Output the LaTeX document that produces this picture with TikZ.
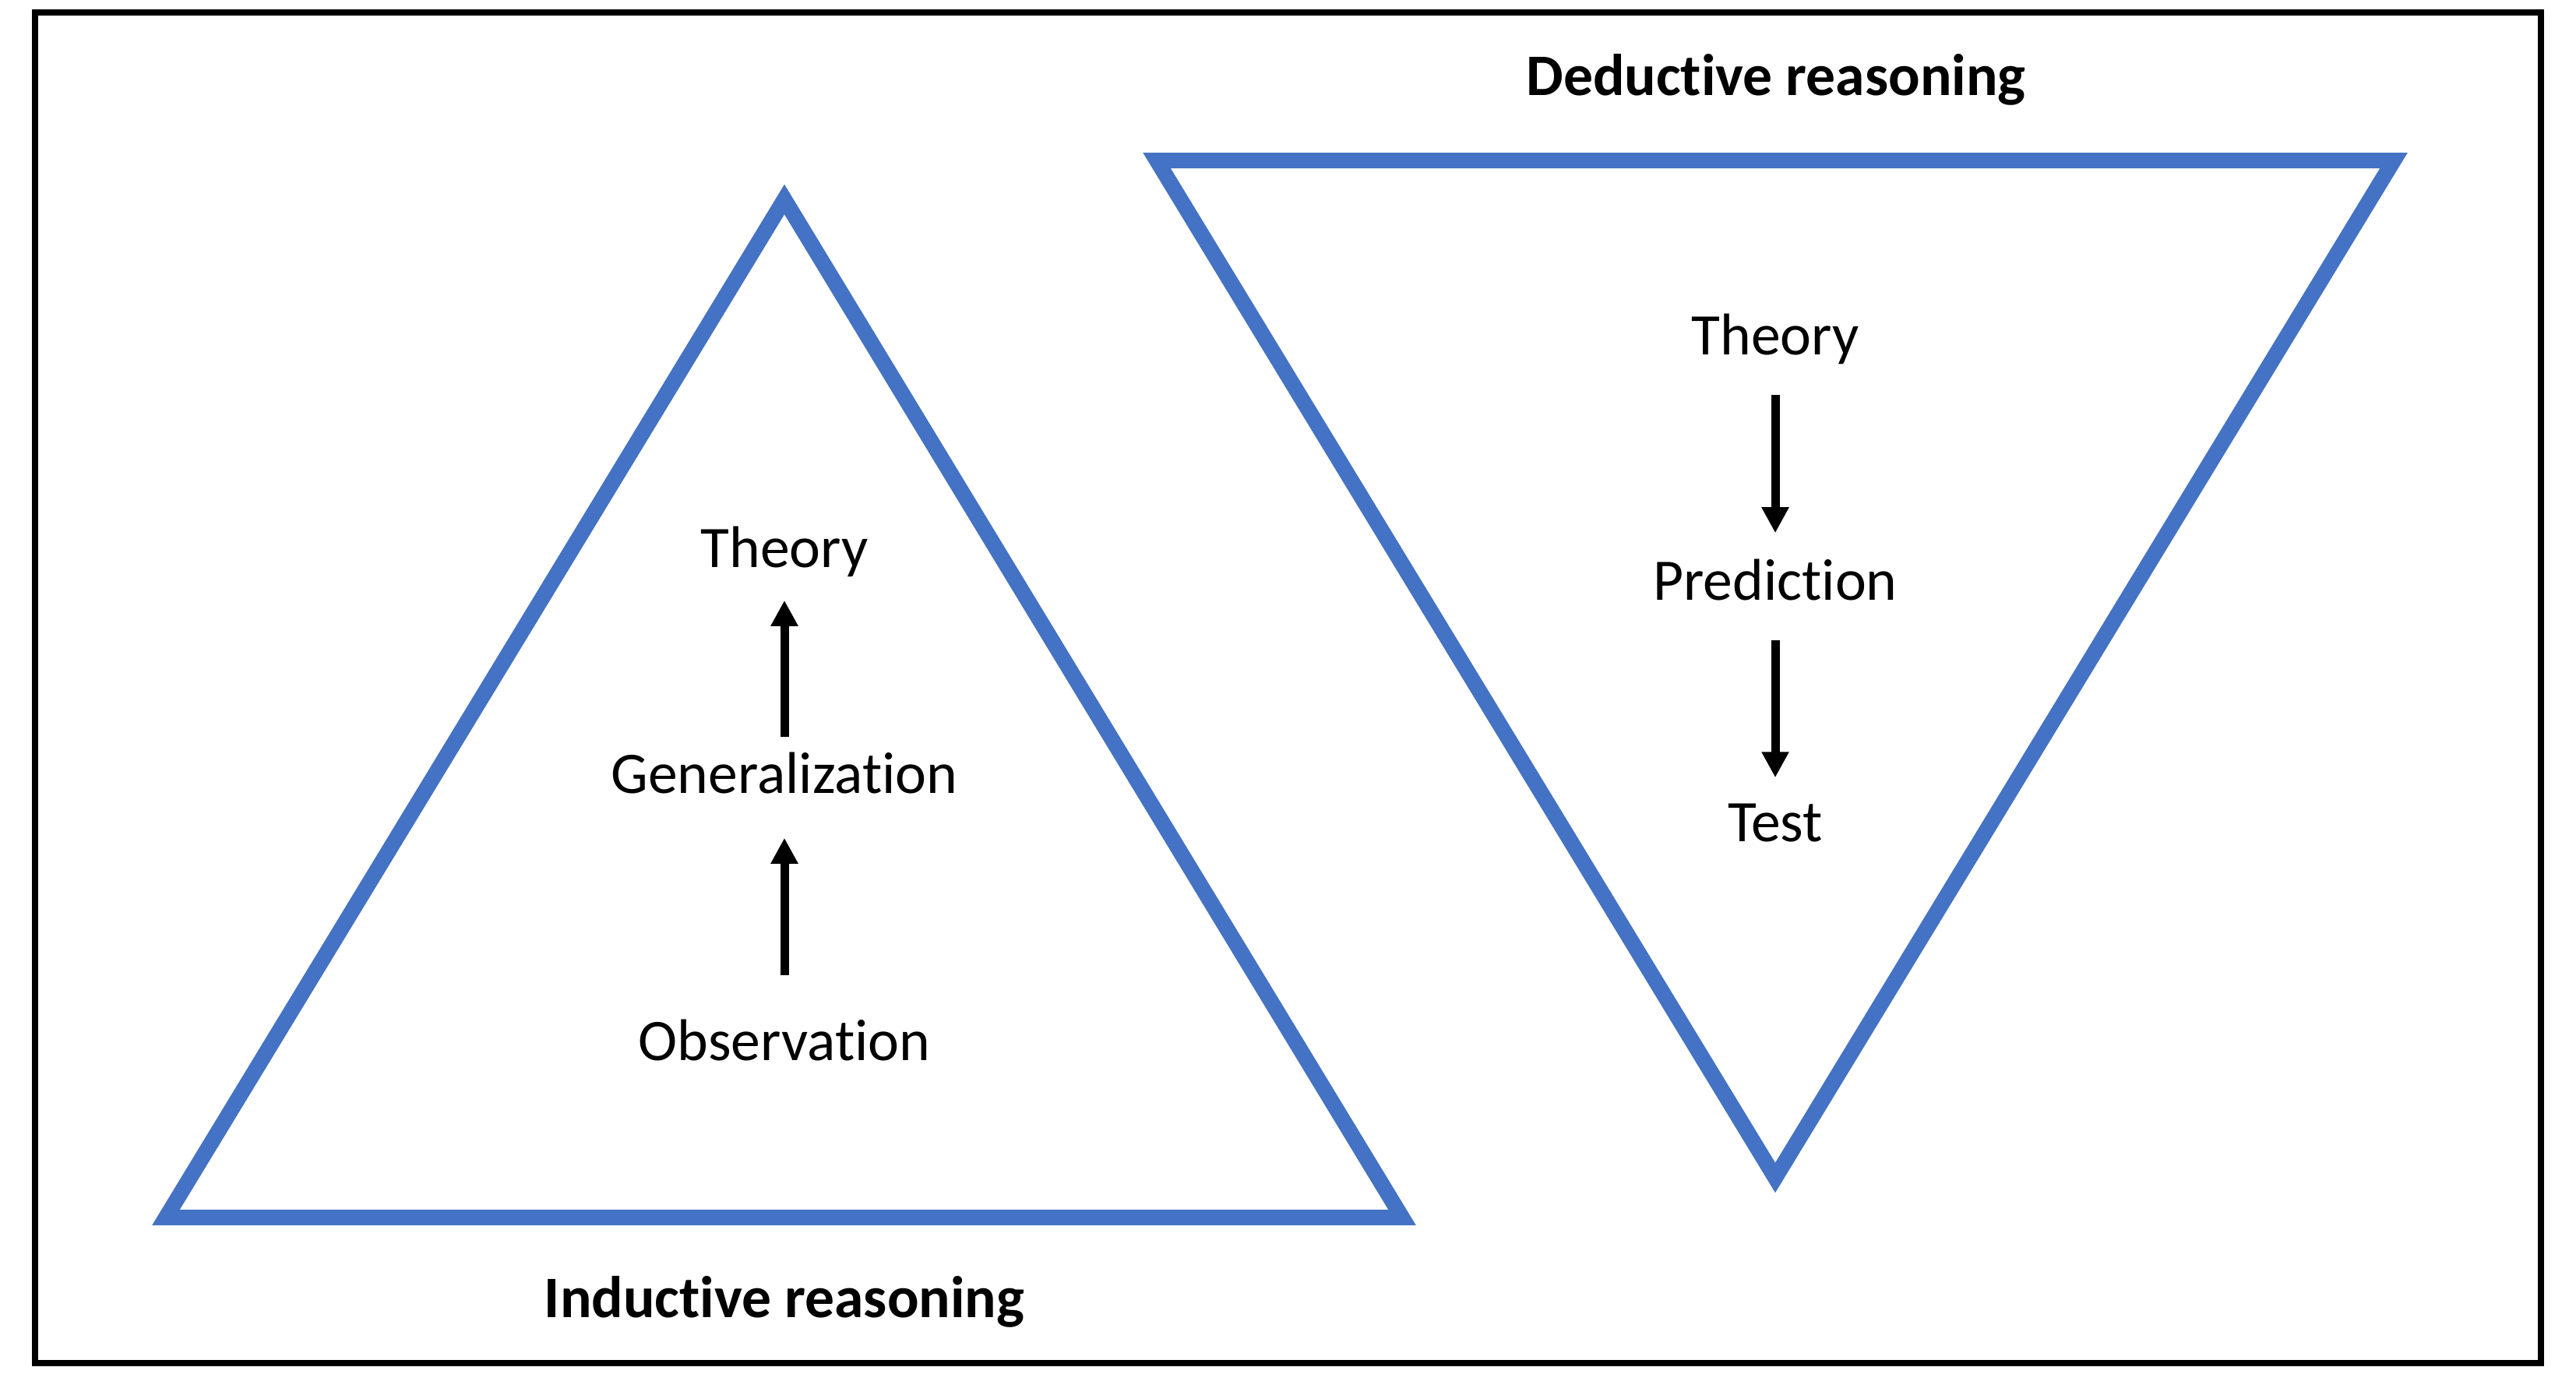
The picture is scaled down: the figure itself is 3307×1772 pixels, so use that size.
\documentclass[tikz,border=0pt]{standalone}
\usepackage{fontspec}
\setmainfont{Carlito}[Ligatures={NoCommon,NoContextual}]
\usepackage{xcolor}
\usetikzlibrary{arrows.meta}
\definecolor{triblue}{HTML}{4472C4}

\begin{document}
\begin{tikzpicture}[x=0.01cm, y=-0.01cm,
        tri/.style={draw=triblue, line width=0.2cm},
        lbl/.style={anchor=base, inner sep=0pt, text height=0.5cm, text depth=0.12cm, font=\fontsize{21.5}{26}\selectfont},
        title/.style={lbl, font=\fontsize{21.5}{26}\selectfont\bfseries},
        flow/.style={line width=0.11cm, -{Triangle[width=0.33cm, length=0.33cm]}}]
        \useasboundingbox (0,0) rectangle (3307,1772);

        % Frame
        \draw[line width=0.08cm] (45,16) rectangle (3262,1750);

        % Inductive triangle
        \draw[tri] (1007,256) -- (1800,1563) -- (213,1563) -- cycle;
        \node[title] (indtitle) at (1007,1691) {Inductive reasoning};
        \node[lbl] (itheory) at (1007,728) {Theory};
        \node[lbl] (igen) at (1007,1018) {Generalization};
        \node[lbl] (iobs) at (1007,1361) {Observation};

        % Upward steps
        \draw[flow, shorten <=0.21cm, shorten >=0.3cm] (igen.north) -- (itheory.south);
        \draw[flow, shorten <=0.58cm, shorten >=0.45cm] (iobs.north) -- (igen.south);

        % Deductive triangle
        \draw[tri] (1485,206) -- (3073,206) -- (2279,1512) -- cycle;
        \node[title] (dedtitle) at (2280,122) {Deductive reasoning};
        \node[lbl] (dtheory) at (2279,455) {Theory};
        \node[lbl] (dpred) at (2279,770) {Prediction};
        \node[lbl] (dtest) at (2279,1080) {Test};

        % Downward steps
        \draw[flow, shorten <=0.39cm, shorten >=0.35cm] (dtheory.south) -- (dpred.north);
        \draw[flow, shorten <=0.39cm, shorten >=0.31cm] (dpred.south) -- (dtest.north);
\end{tikzpicture}
\end{document}
